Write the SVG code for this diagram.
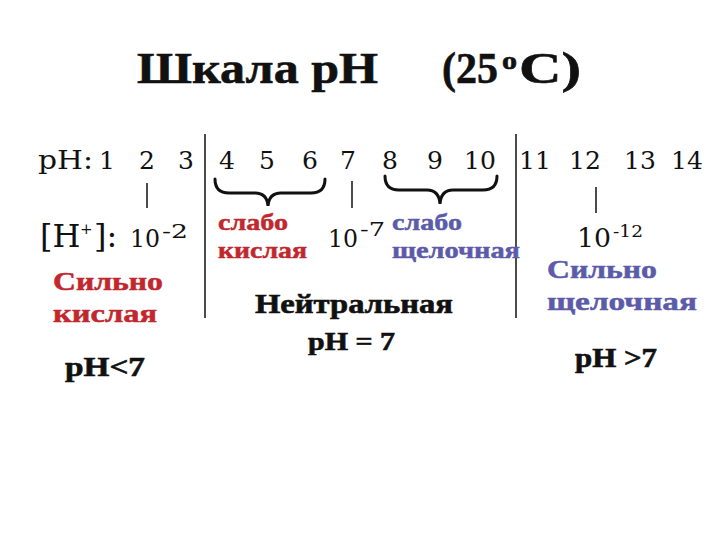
<svg xmlns="http://www.w3.org/2000/svg" width="720" height="540" viewBox="0 0 720 540">
<style>
.t{font-family:"Liberation Serif","Times New Roman",serif;font-weight:bold;fill:#111;stroke:#111;stroke-width:0.6}
.n{font-family:"DejaVu Serif","Liberation Serif",serif;fill:#111}
.num{font-family:"DejaVu Serif","Liberation Serif",serif;font-size:25px;fill:#111;text-anchor:middle}
.r{font-family:"Liberation Serif","Times New Roman",serif;font-weight:bold;fill:#c1272d;stroke:#c1272d;stroke-width:0.5}
.b{font-family:"Liberation Serif","Times New Roman",serif;font-weight:bold;fill:#5b5baa;stroke:#5b5baa;stroke-width:0.5}
.ln{stroke:#111;stroke-width:1.5;fill:none}
.br{stroke:#111;stroke-width:3;fill:none;stroke-linecap:round}
</style>
<rect width="720" height="540" fill="#fff"/>
<g id="title">
<text class="t" x="137" y="83" font-size="45" stroke-width="1.2" textLength="241" lengthAdjust="spacingAndGlyphs">Шкала pH</text>
<text class="t" x="442" y="83" font-size="45" stroke-width="1.2" textLength="56" lengthAdjust="spacingAndGlyphs">(25</text>
<text class="t" x="502" y="69" font-size="25" stroke-width="0.9" textLength="15" lengthAdjust="spacingAndGlyphs">o</text>
<text class="t" x="519" y="83" font-size="45" stroke-width="1.2" textLength="62" lengthAdjust="spacingAndGlyphs">C)</text>
</g>
<g id="scale">
<text class="n" x="38" y="169" font-size="26" textLength="55" lengthAdjust="spacingAndGlyphs">pH:</text>
<text class="num" x="107" y="169">1</text>
<text class="num" x="147" y="169">2</text>
<text class="num" x="186" y="169">3</text>
<text class="num" x="227" y="169">4</text>
<text class="num" x="267" y="169">5</text>
<text class="num" x="310" y="169">6</text>
<text class="num" x="348" y="169">7</text>
<text class="num" x="390" y="169">8</text>
<text class="num" x="435" y="169">9</text>
<text class="num" x="480" y="169">10</text>
<text class="num" x="535" y="169">11</text>
<text class="num" x="585" y="169">12</text>
<text class="num" x="640" y="169">13</text>
<text class="num" x="687" y="169">14</text>
</g>
<g id="connectors">
<line class="ln" x1="205" y1="134" x2="205" y2="318"/>
<line class="ln" x1="516" y1="134" x2="516" y2="318"/>
<line class="ln" x1="147" y1="183" x2="147" y2="208"/>
<line class="ln" x1="352" y1="181" x2="352" y2="208"/>
<line class="ln" x1="596" y1="187" x2="596" y2="213"/>
<path class="br" d="M215,179 Q215,193 229,193 L255,193 Q267,193 268,206 Q269,193 281,193 L311,193 Q325,193 325,179"/>
<path class="br" d="M385,176 Q385,190 399,190 L427,190 Q439,190 440,204 Q441,190 453,190 L483,190 Q497,190 497,176"/>
</g>
<g id="strong-acid">
<text class="n" x="40" y="247" font-size="32">[H</text>
<text class="n" x="80" y="234" font-size="15">+</text>
<text class="n" x="94" y="247" font-size="32">]:</text>
<text class="n" x="130" y="247" font-size="25" textLength="30" lengthAdjust="spacingAndGlyphs">10</text>
<text class="n" x="162" y="238" font-size="18" textLength="26" lengthAdjust="spacingAndGlyphs">-2</text>
<text class="r" x="53" y="290" font-size="26" textLength="110" lengthAdjust="spacingAndGlyphs">Сильно</text>
<text class="r" x="53" y="322" font-size="26" textLength="104" lengthAdjust="spacingAndGlyphs">кислая</text>
<text class="t" x="65" y="376" font-size="27" textLength="80" lengthAdjust="spacingAndGlyphs">pH&lt;7</text>
</g>
<g id="weak-acid">
<text class="r" x="218" y="230" font-size="24" textLength="70" lengthAdjust="spacingAndGlyphs">слабо</text>
<text class="r" x="218" y="258" font-size="24" textLength="89" lengthAdjust="spacingAndGlyphs">кислая</text>
</g>
<g id="neutral">
<text class="n" x="328" y="247" font-size="25" textLength="30" lengthAdjust="spacingAndGlyphs">10</text>
<text class="n" x="360" y="236" font-size="18" textLength="25" lengthAdjust="spacingAndGlyphs">-7</text>
<text class="t" x="255" y="313" font-size="27" textLength="198" lengthAdjust="spacingAndGlyphs">Нейтральная</text>
<text class="t" x="308" y="350" font-size="25" textLength="87" lengthAdjust="spacingAndGlyphs">pH = 7</text>
</g>
<g id="weak-base">
<text class="b" x="392" y="230" font-size="24" textLength="70" lengthAdjust="spacingAndGlyphs">слабо</text>
<text class="b" x="392" y="258" font-size="24" textLength="128" lengthAdjust="spacingAndGlyphs">щелочная</text>
</g>
<g id="strong-base">
<text class="n" x="577" y="247" font-size="26" textLength="34" lengthAdjust="spacingAndGlyphs">10</text>
<text class="n" x="613" y="237" font-size="17" textLength="30" lengthAdjust="spacingAndGlyphs">-12</text>
<text class="b" x="547" y="278" font-size="26" textLength="110" lengthAdjust="spacingAndGlyphs">Сильно</text>
<text class="b" x="547" y="310" font-size="26" textLength="150" lengthAdjust="spacingAndGlyphs">щелочная</text>
<text class="t" x="575" y="367" font-size="27" textLength="82" lengthAdjust="spacingAndGlyphs">pH &gt;7</text>
</g>
</svg>
